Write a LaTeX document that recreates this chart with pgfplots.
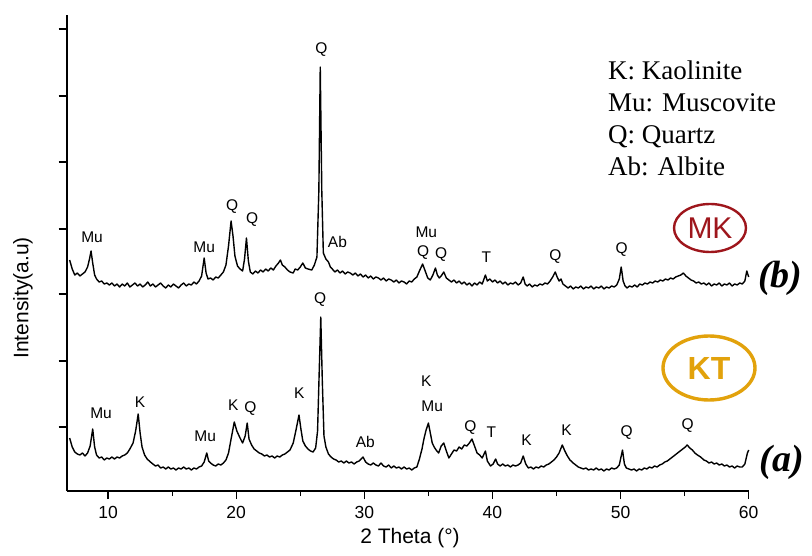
\documentclass[border=0pt]{standalone}
\usepackage{fontspec}
\setmainfont{Liberation Sans}
\newfontfamily\seriffont{Liberation Serif}
\usepackage{pgfplots}
\pgfplotsset{compat=1.18}
\definecolor{mkred}{RGB}{158,22,28}
\definecolor{ktgold}{RGB}{226,162,12}
\newcommand\lf{\fontsize{15.5}{17}\selectfont}
\begin{document}
\begin{tikzpicture}
\useasboundingbox (-66.7pt,-64pt) rectangle (745.3pt,491pt);
\begin{axis}[
  scale only axis, width=682pt, height=476pt,
  xmin=6.77, xmax=60, ymin=0, ymax=476,
  axis x line*=bottom, axis y line*=left,
  axis line style={-, line width=1.7pt},
  xtick={10,20,30,40,50,60},
  minor xtick={15,25,35,45,55},
  ytick={64,130,197,262,329,395,462},
  yticklabels={},
  tick align=outside,
  major tick length=8pt, minor tick length=5pt,
  every tick/.style={black, line width=1.2pt},
  tick label style={font=\fontsize{17.5}{20}\selectfont},
  /pgf/number format/assume math mode=true,
  xticklabel style={yshift=-4pt},
  clip=false,
]
% (b) MK
\addplot[black, line width=1.4pt, line join=round] coordinates {
(7.0,231)(7.2,222)(7.4,216)(7.6,218)(7.8,215)(8.0,217)(8.2,219)(8.4,224)(8.55,232)(8.67,240)(8.8,228)(8.95,216)
(9.1,212)(9.3,209)(9.5,210)(9.7,207)(9.9,208)(10.1,206)(10.3,208)(10.5,205)(10.7,207)(10.9,204)(11.1,207)(11.3,205)
(11.5,208)(11.7,204)(11.9,206)(12.1,208)(12.3,205)(12.5,207)(12.7,204)(12.9,206)(13.1,209)(13.3,205)(13.5,207)
(13.7,204)(13.9,206)(14.1,208)(14.3,205)(14.5,203)(14.7,206)(14.9,204)(15.1,207)(15.3,205)(15.5,203)(15.7,206)
(15.9,208)(16.1,205)(16.3,207)(16.5,206)(16.7,209)(16.9,207)(17.1,210)(17.3,215)(17.5,233)(17.65,218)(17.8,212)
(18.0,213)(18.2,211)(18.4,214)(18.6,213)(18.8,216)(19.0,219)(19.2,226)(19.4,245)(19.6,270)(19.75,255)(19.9,235)
(20.1,225)(20.3,222)(20.5,220)(20.65,232)(20.8,253)(20.95,230)(21.1,219)(21.3,217)(21.5,220)(21.7,218)(21.9,221)
(22.1,219)(22.3,222)(22.5,220)(22.7,223)(22.9,221)(23.1,225)(23.3,228)(23.45,231)(23.6,226)(23.8,224)(24.0,221)
(24.2,219)(24.45,218)(24.6,222)(24.8,221)(25.0,224)(25.2,228)(25.4,223)(25.6,222)(25.9,221)(26.1,226)(26.3,234)
(26.45,300)(26.56,424)(26.68,300)(26.8,238)(27.0,232)(27.2,229)(27.35,224)(27.5,222)(27.7,219)(27.9,221)(28.1,218)
(28.3,220)(28.5,217)(28.7,219)(28.9,218)(29.1,216)(29.3,218)(29.5,215)(29.7,217)(29.9,214)(30.1,216)(30.3,213)
(30.5,215)(30.7,212)(30.9,214)(31.1,213)(31.3,211)(31.5,213)(31.7,210)(31.9,212)(32.1,211)(32.3,209)(32.5,211)
(32.7,208)(32.9,210)(33.1,209)(33.3,207)(33.5,210)(33.7,209)(33.9,212)(34.1,214)(34.3,220)(34.55,227)(34.75,220)
(34.95,213)(35.15,211)(35.35,216)(35.55,223)(35.7,216)(35.85,213)(36.0,215)(36.2,219)(36.4,213)(36.6,211)(36.8,209)
(37.0,211)(37.2,208)(37.4,210)(37.6,207)(37.8,209)(38.0,206)(38.2,208)(38.4,205)(38.6,208)(38.8,206)(39.0,209)
(39.2,207)(39.45,216)(39.6,210)(39.8,212)(40.0,209)(40.2,211)(40.4,208)(40.6,210)(40.8,207)(41.0,209)(41.2,206)
(41.4,208)(41.6,207)(41.8,209)(42.0,206)(42.2,208)(42.4,214)(42.55,207)(42.7,205)(42.9,207)(43.1,204)(43.3,206)
(43.5,205)(43.7,207)(43.9,206)(44.1,208)(44.3,207)(44.5,210)(44.7,214)(44.9,219)(45.05,214)(45.2,210)(45.35,212)
(45.5,207)(45.7,205)(45.9,203)(46.1,205)(46.3,202)(46.5,204)(46.7,203)(46.9,205)(47.1,202)(47.3,204)(47.5,203)
(47.7,205)(47.9,202)(48.1,204)(48.3,203)(48.5,205)(48.7,202)(48.9,204)(49.1,203)(49.3,205)(49.5,204)(49.7,206)
(49.9,212)(50.05,224)(50.2,210)(50.35,205)(50.5,203)(50.7,205)(50.9,204)(51.1,206)(51.3,204)(51.5,207)(51.7,206)
(51.9,208)(52.1,207)(52.3,209)(52.5,208)(52.7,210)(52.9,209)(53.1,211)(53.3,210)(53.5,212)(53.7,211)(53.9,213)
(54.1,212)(54.3,214)(54.5,215)(54.7,216)(54.9,218)(55.1,215)(55.3,213)(55.5,211)(55.7,210)(55.9,208)(56.1,209)
(56.3,207)(56.5,208)(56.7,206)(56.9,208)(57.1,205)(57.3,207)(57.5,206)(57.7,208)(57.9,205)(58.1,207)(58.3,206)
(58.5,208)(58.7,205)(58.9,207)(59.1,206)(59.3,208)(59.5,207)(59.7,210)(59.85,220)(60.0,214)
};
% (a) KT
\addplot[black, line width=1.4pt, line join=round] coordinates {
(7.0,53)(7.2,44)(7.4,39)(7.6,37)(7.8,36)(8.0,38)(8.2,35)(8.4,38)(8.6,45)(8.8,62)(8.95,44)(9.1,36)(9.3,33)(9.5,34)
(9.7,31)(9.9,33)(10.1,32)(10.3,34)(10.5,32)(10.7,34)(10.9,33)(11.1,35)(11.3,36)(11.5,38)(11.7,42)(11.95,48)
(12.15,60)(12.35,77)(12.5,58)(12.65,44)(12.85,36)(13.05,32)(13.3,29)(13.5,27)(13.7,25)(13.9,26)(14.1,23)(14.3,24)
(14.5,22)(14.7,24)(14.9,22)(15.1,23)(15.3,21)(15.5,23)(15.7,22)(15.9,24)(16.1,22)(16.3,23)(16.5,21)(16.7,23)
(16.9,22)(17.1,24)(17.3,25)(17.5,29)(17.7,38)(17.85,30)(18.0,28)(18.2,26)(18.4,25)(18.6,27)(18.8,26)(19.0,28)
(19.2,31)(19.4,38)(19.6,52)(19.85,69)(20.05,60)(20.3,53)(20.5,48)(20.7,55)(20.86,68)(21.0,52)(21.2,46)(21.4,42)
(21.6,40)(21.8,38)(22.0,37)(22.2,35)(22.4,36)(22.6,34)(22.8,35)(23.0,33)(23.2,35)(23.4,34)(23.6,36)(23.8,37)
(24.0,39)(24.2,41)(24.45,48)(24.65,60)(24.9,76)(25.05,62)(25.2,50)(25.4,45)(25.6,42)(25.8,40)(26.0,39)(26.2,43)
(26.35,60)(26.48,120)(26.6,174)(26.72,110)(26.85,55)(27.0,44)(27.2,37)(27.4,34)(27.6,32)(27.8,31)(28.0,29)
(28.2,30)(28.4,28)(28.6,30)(28.8,28)(29.0,29)(29.2,27)(29.4,29)(29.6,30)(29.9,34)(30.1,29)(30.3,27)(30.5,26)
(30.7,28)(30.9,26)(31.1,25)(31.3,28)(31.5,25)(31.7,24)(31.9,26)(32.1,23)(32.3,25)(32.5,23)(32.7,24)(32.9,22)
(33.1,24)(33.3,22)(33.5,23)(33.7,21)(33.9,23)(34.1,24)(34.3,32)(34.5,42)(34.65,52)(34.8,60)(35.0,68)(35.15,58)
(35.3,48)(35.45,44)(35.6,41)(35.8,38)(36.0,45)(36.2,48)(36.4,40)(36.6,33)(36.8,37)(37.0,41)(37.2,40)(37.4,44)
(37.6,42)(37.8,46)(38.0,45)(38.2,48)(38.4,52)(38.6,45)(38.8,38)(39.0,36)(39.2,33)(39.45,40)(39.6,30)(39.85,25)
(40.05,27)(40.25,32)(40.4,27)(40.6,25)(40.8,27)(41.0,25)(41.2,26)(41.4,24)(41.6,26)(41.8,25)(42.0,26)(42.2,28)
(42.4,35)(42.6,27)(42.8,23)(43.0,24)(43.2,22)(43.4,24)(43.6,23)(43.8,25)(44.0,24)(44.2,26)(44.4,27)(44.6,29)
(44.8,31)(45.0,34)(45.2,38)(45.45,46)(45.65,40)(45.85,35)(46.05,31)(46.3,28)(46.5,26)(46.7,24)(46.9,23)(47.1,22)
(47.3,23)(47.5,21)(47.7,22)(47.9,21)(48.1,23)(48.3,21)(48.5,22)(48.7,20)(48.9,22)(49.1,21)(49.3,23)(49.5,22)
(49.7,23)(49.9,26)(50.15,41)(50.3,27)(50.45,23)(50.65,22)(50.85,21)(51.05,22)(51.25,20)(51.45,22)(51.65,21)
(51.85,23)(52.05,22)(52.25,24)(52.45,23)(52.65,25)(52.85,24)(53.05,26)(53.25,27)(53.45,29)(53.65,30)(53.85,32)
(54.05,34)(54.25,36)(54.45,38)(54.65,40)(54.85,42)(55.05,44)(55.2,46)(55.4,43)(55.6,41)(55.8,38)(56.0,36)
(56.25,34)(56.5,31)(56.7,30)(56.9,28)(57.1,29)(57.3,27)(57.5,28)(57.7,26)(57.9,27)(58.1,25)(58.3,26)(58.5,24)
(58.7,25)(58.9,23)(59.1,25)(59.3,24)(59.5,24)(59.7,27)(59.9,38)(60.0,41)
};
% peak labels (b)
\node[font=\lf] at (axis cs:8.75,254) {Mu};
\node[font=\lf] at (axis cs:17.5,244) {Mu};
\node[font=\lf] at (axis cs:19.69,284) {Q};
\node[font=\lf] at (axis cs:21.25,271) {Q};
\node[font=\lf] at (axis cs:26.64,441) {Q};
\node[font=\lf] at (axis cs:27.9,249) {Ab};
\node[font=\lf] at (axis cs:34.84,259) {Mu};
\node[font=\lf] at (axis cs:34.6,238) {Q};
\node[font=\lf] at (axis cs:36.0,236) {Q};
\node[font=\lf] at (axis cs:39.53,234) {T};
\node[font=\lf] at (axis cs:44.92,234) {Q};
\node[font=\lf] at (axis cs:50.08,241) {Q};
% peak labels (a)
\node[font=\lf] at (axis cs:9.45,78) {Mu};
\node[font=\lf] at (axis cs:12.5,89) {K};
\node[font=\lf] at (axis cs:17.58,55) {Mu};
\node[font=\lf] at (axis cs:19.77,86) {K};
\node[font=\lf] at (axis cs:21.1,82) {Q};
\node[font=\lf] at (axis cs:24.92,98) {K};
\node[font=\lf] at (axis cs:26.56,191) {Q};
\node[font=\lf] at (axis cs:30.08,49) {Ab};
\node[font=\lf] at (axis cs:34.84,110) {K};
\node[font=\lf] at (axis cs:35.3,85) {Mu};
\node[font=\lf] at (axis cs:38.28,63) {Q};
\node[font=\lf] at (axis cs:39.92,59) {T};
\node[font=\lf] at (axis cs:42.66,51) {K};
\node[font=\lf] at (axis cs:45.78,61) {K};
\node[font=\lf] at (axis cs:50.47,58) {Q};
\node[font=\lf] at (axis cs:55.23,65) {Q};
\end{axis}
% axis titles
\node[font=\fontsize{21}{24}\selectfont, rotate=90] at (-43.7pt,193pt) {Intensity(a.u)};
\node[font=\fontsize{21}{24}\selectfont] at (343.3pt,-47pt) {2 Theta (°)};
% legend
\node[anchor=west, align=left, font=\seriffont\fontsize{27}{32}\selectfont, inner sep=0pt] at (541.3pt,373pt)
  {K: Kaolinite\\Mu: Muscovite\\Q: Quartz\\Ab: Albite};
% sample tags
\draw[mkred, line width=2.4pt] (643.3pt,263pt) ellipse [x radius=36pt, y radius=24pt];
\node[mkred, font=\fontsize{30}{32}\selectfont] at (643.3pt,263pt) {MK};
\draw[ktgold, line width=3.4pt] (642.3pt,123pt) ellipse [x radius=46pt, y radius=32pt];
\node[ktgold, font=\bfseries\fontsize{32}{34}\selectfont] at (642.3pt,123pt) {KT};
\node[font=\seriffont\bfseries\itshape\fontsize{38}{40}\selectfont, anchor=west, inner sep=0pt] at (691.3pt,213pt) {(b)};
\node[font=\seriffont\bfseries\itshape\fontsize{38}{40}\selectfont, anchor=west, inner sep=0pt] at (693pt,29pt) {(a)};
\end{tikzpicture}
\end{document}
